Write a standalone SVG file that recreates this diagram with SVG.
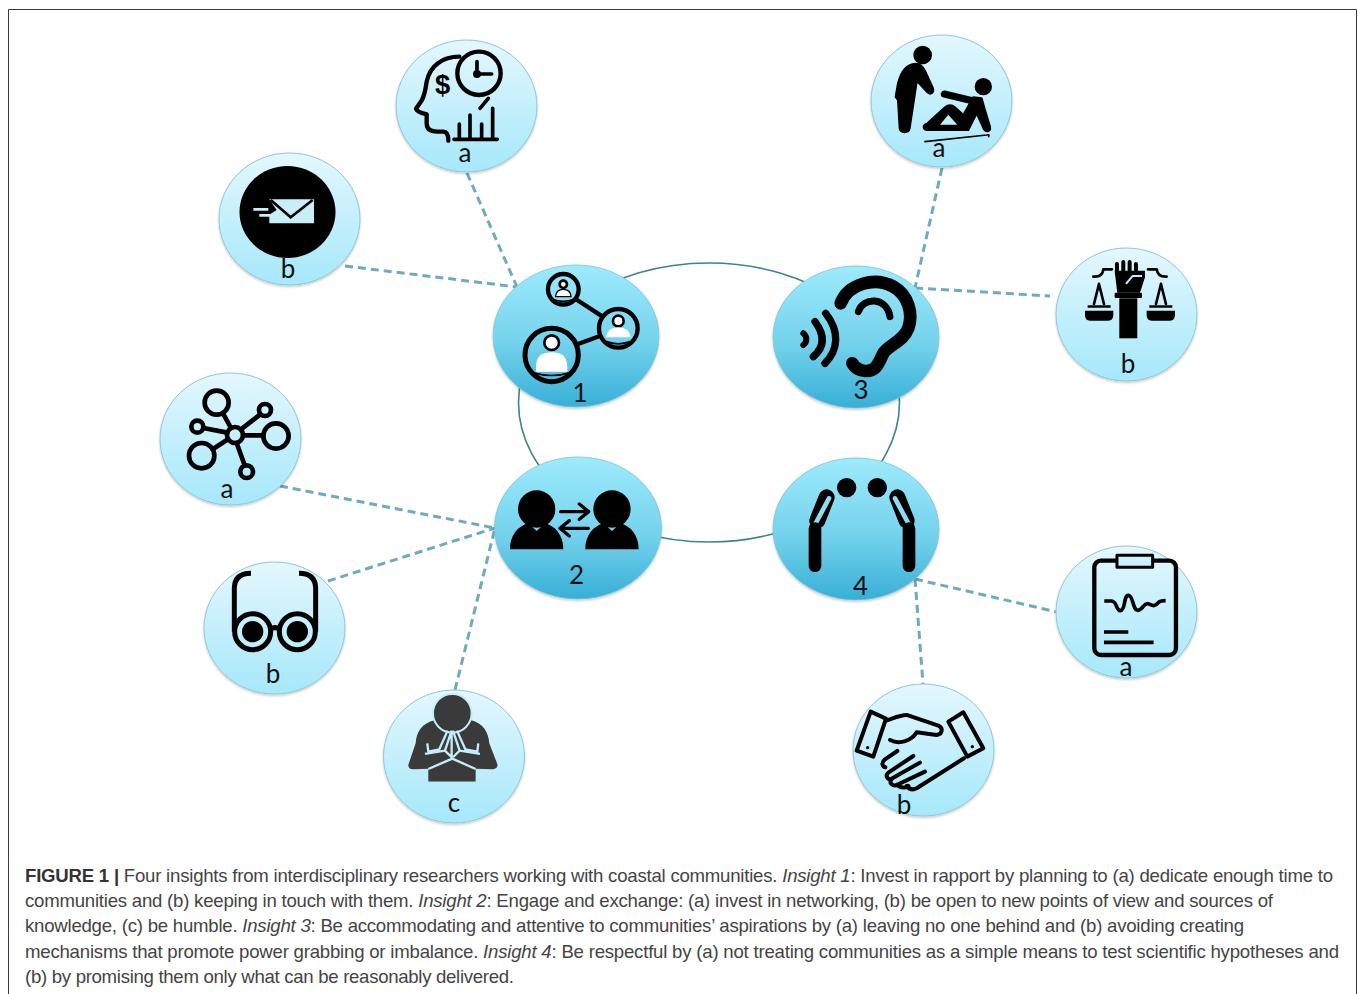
<svg xmlns="http://www.w3.org/2000/svg" width="1358" height="994" viewBox="0 0 1358 994">
<style>
.cap{font-family:"Liberation Sans",Arial,sans-serif;font-size:18.6px;fill:#444}
.cap .i{font-style:italic}
.cap .b{font-weight:bold;fill:#333}
.lb{font-family:Lato,"Open Sans",sans-serif;font-size:26px;fill:#111;text-anchor:middle}
.num{font-size:78px}
.dash{fill:none;stroke:#6eaac0;stroke-width:3;stroke-dasharray:8 5}
.ring{fill:none;stroke:#3d8296;stroke-width:1.6}
.small{fill:url(#gs);stroke:#8fc7d3;stroke-width:1;filter:url(#sh)}
.big{fill:url(#gb);stroke:#7cc4d8;stroke-width:.8;filter:url(#sh)}
.k{fill:none;stroke:#000;stroke-linecap:round;stroke-linejoin:round}
.f{fill:#000}
</style>
<defs>
<linearGradient id="gs" x1="0" y1="0" x2="0" y2="1"><stop offset="0" stop-color="#e4f7fd"/><stop offset="1" stop-color="#a6e8fb"/></linearGradient>
<linearGradient id="gb" x1="0" y1="0" x2="0" y2="1"><stop offset="0" stop-color="#9eebfc"/><stop offset=".55" stop-color="#74d2ec"/><stop offset="1" stop-color="#38afd6"/></linearGradient>
<filter id="sh" x="-10%" y="-10%" width="120%" height="120%"><feDropShadow dx="0" dy="1.5" stdDeviation="1.2" flood-color="#000" flood-opacity=".22"/></filter>
</defs>
<rect width="1358" height="994" fill="#fff"/>
<path d="M8.5 994V9.5H1356.5V994" fill="none" stroke="#3a3a3a" stroke-width="1"/>

<g id="connectors">
<ellipse class="ring" cx="709" cy="402.500" rx="190.500" ry="139.500"/>
<path class="dash" d="M467 173L517 287"/>
<path class="dash" d="M345 266L517 287"/>
<path class="dash" d="M942 168L915 288"/>
<path class="dash" d="M915 288L1050 296"/>
<path class="dash" d="M280 486L495 528"/>
<path class="dash" d="M328 581L495 528"/>
<path class="dash" d="M455 690L495 528"/>
<path class="dash" d="M915 579L1057 612"/>
<path class="dash" d="M915 579L923 684"/>
</g>

<g id="node-1">
<ellipse class="big" cx="576" cy="336" rx="83" ry="71"/>
<g transform="translate(380,20) scale(.3333)">
<g class="k" stroke-width="13">
<circle cx="550" cy="808" r="46"/>
<circle cx="715" cy="925" r="58"/>
<circle cx="515" cy="1005" r="80" stroke-width="15"/>
<path d="M588 838L668 890M592 973L660 948"/>
</g>
<g class="k" stroke-width="5"><path d="M518 838Q550 850 582 838"/><path d="M680 965Q715 978 750 965"/><path d="M458 1058Q515 1075 572 1058"/></g>
<g fill="#fff" stroke="#000" stroke-width="8">
<circle cx="550" cy="793" r="11"/><circle cx="715" cy="903" r="16"/>
<circle cx="515" cy="968" r="22"/>
</g>
<path fill="#fff" stroke="#000" stroke-width="4" d="M527 830Q528 808 550 808Q572 808 573 830Z"/>
<path fill="#fff" d="M678 952Q682 922 715 922Q748 922 752 952Z"/>
<path fill="#fff" d="M468 1055V1040Q468 997 515 997Q562 997 562 1040V1055Z"/>
<text class="lb num" x="600" y="1145">1</text>
</g>
</g>

<g id="node-2">
<ellipse class="big" cx="578" cy="528" rx="83.500" ry="71"/>
<g transform="translate(490,450) scale(.3333)">
<g id="p2"><circle class="f" cx="140" cy="177" r="56"/><path class="f" d="M60 298C60 255 85 228 115 220L140 243L165 220C195 228 220 255 220 298Z"/></g>
<use href="#p2" x="226"/>
<path class="k" stroke-width="10" d="M212 185H295M268 162L296 185L268 208M295 235H212M238 212L210 235L238 258"/>
<text class="lb num" x="260" y="401">2</text>
</g>
</g>

<g id="node-3">
<ellipse class="big" cx="856" cy="337" rx="83" ry="71"/>
<g transform="translate(760,20) scale(.3333)">
<path class="k" stroke-width="38" d="M242 850C265 790 345 770 400 800C445 825 460 880 445 925C430 965 385 975 370 1000C355 1030 350 1055 315 1053C295 1052 283 1040 277 1030"/>
<path class="k" stroke-width="21" d="M295 875C310 830 380 830 390 890"/>
<path class="k" stroke-width="22" d="M197 880C240 935 235 990 195 1030M165 905C195 945 195 980 160 1010"/>
<path class="k" stroke-width="18" d="M130 940C142 950 142 965 130 975"/>
<text class="lb num" x="303" y="1138">3</text>
</g>
</g>

<g id="node-4">
<ellipse class="big" cx="856" cy="529" rx="83" ry="71"/>
<g transform="translate(760,450) scale(.3333)">
<circle class="f" cx="260" cy="113" r="29"/><circle class="f" cx="352" cy="113" r="29"/>
<g id="bow">
<path class="k" stroke-width="48" d="M200 142L172 212"/>
<path d="M207 145L166 222" fill="none" stroke="#8fdcf1" stroke-width="14" stroke-linecap="round"/>
<path class="k" stroke-width="38" d="M165 236V347"/>
</g>
<use href="#bow" transform="translate(612,0) scale(-1,1)"/>
<text class="lb num" x="302" y="436">4</text>
</g>
</g>

<g id="node-1a">
<ellipse class="small" cx="466.500" cy="106" rx="70.500" ry="66"/>
<g transform="translate(380,20) scale(.3333)">
<g class="k" stroke-width="13">
<path d="M238 110C190 110 150 135 140 185C137 205 135 222 126 240L108 266C112 277 130 280 140 283V310C140 330 155 335 172 335H190C200 335 205 345 205 362"/>
<circle cx="297" cy="160" r="65"/>
<path d="M291 125V162H335" stroke-width="11"/>
<path d="M300 265L325 235" stroke-width="11"/>
<path d="M222 358H352M238 358V312M270 358V285M305 358V312M338 358V265" stroke-width="11"/>
</g>
<circle class="f" cx="291" cy="162" r="12"/>
<text x="188" y="222" text-anchor="middle" style="font-family:'Liberation Sans',sans-serif;font-size:82px;font-weight:bold;fill:#000">$</text>
</g>
<text class="lb" x="465" y="162">a</text>
</g>

<g id="node-1b">
<ellipse class="small" cx="289.500" cy="219" rx="70.500" ry="66"/>
<ellipse class="f" cx="287.500" cy="212" rx="48" ry="46"/>
<g transform="translate(200,140) scale(.3333)">
<path d="M208 178H342V250H208V224L230 210Z" fill="#c8eef8"/>
<path d="M212 180L272 232L338 180" fill="none" stroke="#000" stroke-width="8"/>
<path d="M160 208H205M178 226H215" fill="none" stroke="#c8eef8" stroke-width="8"/>
</g>
<text class="lb" x="288" y="278">b</text>
</g>

<g id="node-2a">
<ellipse class="small" cx="230.500" cy="439" rx="70.500" ry="66"/>
<g transform="translate(150,360) scale(.3333)" class="k" stroke-width="14">
<circle cx="255" cy="225" r="24"/><circle cx="200" cy="128" r="36"/><circle cx="345" cy="150" r="18"/><circle cx="378" cy="228" r="38"/><circle cx="290" cy="335" r="19"/><circle cx="155" cy="287" r="38"/><circle cx="142" cy="200" r="18"/>
<path d="M243 204L219 160M273 208L331 163M279 226H340M260 249L284 316M234 238L188 268M232 218L160 204"/>
</g>
<text class="lb" x="227" y="498">a</text>
</g>

<g id="node-2b">
<ellipse class="small" cx="274.500" cy="628" rx="70.500" ry="66"/>
<g transform="translate(150,360) scale(.3333)">
<g class="k" stroke-width="15">
<path d="M303 640Q254 640 253 685V815M447 640Q496 640 497 685V815" stroke-linecap="butt"/>
<circle cx="308" cy="815" r="54"/><circle cx="442" cy="815" r="54"/>
<path d="M362 808Q375 798 388 808"/>
</g>
<circle class="f" cx="308" cy="815" r="32"/><circle class="f" cx="442" cy="815" r="32"/>
</g>
<text class="lb" x="273" y="683">b</text>
</g>

<g id="node-2c">
<ellipse class="small" cx="454" cy="756.500" rx="70.500" ry="66.500"/>
<g transform="translate(150,360) scale(.3333)">
<path fill="#3a3a3a" d="M855 1080C815 1090 800 1115 797 1150L775 1215Q775 1228 790 1228L835 1226V1265H977V1226L1028 1228Q1045 1226 1042 1212L1018 1150C1015 1115 1000 1090 962 1080Z"/>
<circle cx="907" cy="1060" r="58" fill="#3a3a3a" stroke="#c4edf9" stroke-width="6"/>
<circle cx="907" cy="1060" r="53" fill="#3a3a3a"/>
<g fill="none" stroke="#c4edf9" stroke-width="7" stroke-linejoin="round">
<path d="M893 1112L868 1168L835 1175L832 1150M825 1182L885 1172"/>
<path d="M921 1112L946 1168L982 1175L985 1150M990 1182L929 1172"/>
<path d="M905 1112L885 1172L905 1192V1112M909 1112L929 1172L909 1192"/>
<path d="M835 1227L907 1196L977 1227"/>
</g>
</g>
<text class="lb" x="454" y="812">c</text>
</g>

<g id="node-3a">
<ellipse class="small" cx="941.500" cy="101" rx="70.500" ry="66"/>
<g transform="translate(760,20) scale(.3333)">
<circle class="f" cx="488" cy="105" r="28"/>
<path class="f" stroke="#000" stroke-width="8" stroke-linejoin="round" d="M415 190C425 150 445 132 470 132C485 132 490 145 495 155L518 205C522 218 510 224 503 216L470 180L448 325C445 340 422 338 420 325L415 240L408 230Z"/>
<circle class="f" cx="670" cy="200" r="26"/>
<path class="k" stroke-width="21" d="M553 222L640 243"/>
<path class="f" stroke="#000" stroke-width="6" stroke-linejoin="round" d="M640 232L665 235L675 270L690 320C693 335 680 338 672 328L650 280L625 330H500C488 328 488 315 500 312L555 262C565 254 575 254 585 262L610 285Z"/>
<path d="M540 314L565 284L592 314Z" fill="#bfeefb"/>
<path class="k" stroke-width="5" stroke-linecap="butt" d="M495 365L680 345Q690 342 686 350"/>
</g>
<text class="lb" x="939" y="157">a</text>
</g>

<g id="node-3b">
<ellipse class="small" cx="1126.500" cy="314.500" rx="70.500" ry="66.500"/>
<g transform="translate(760,20) scale(.3333)">
<rect class="f" x="1078" y="835" width="54" height="120"/>
<rect class="f" x="1064" y="818" width="82" height="16" rx="3"/>
<path class="f" d="M1064 752H1155V772L1140 818H1072Z"/>
<path class="k" stroke-width="12" d="M1071 732V752M1090 726V752M1109 726V752M1128 732V752"/>
<path d="M1098 792L1118 768H1146" fill="none" stroke="#c4eefa" stroke-width="6"/>
<path class="k" stroke-width="8" stroke-linecap="butt" d="M1056 748H1030Q1028 772 1000 770M1164 748H1190Q1194 772 1220 770"/>
<path class="k" stroke-width="8" d="M1017 792L1002 852M1017 792L1032 852M1203 792L1188 852M1203 792L1218 852"/>
<path class="f" d="M983 856H1052V863H983ZM1168 856H1237V863H1168ZM975 872H1060V885Q1060 902 1045 902H990Q975 902 975 885ZM1160 872H1245V885Q1245 902 1230 902H1175Q1160 902 1160 885Z"/>
</g>
<text class="lb" x="1128" y="373">b</text>
</g>

<g id="node-4a">
<ellipse class="small" cx="1126.500" cy="612" rx="70.500" ry="66"/>
<g transform="translate(760,450) scale(.3333)" class="k">
<rect x="1003" y="332" width="245" height="283" rx="20" stroke-width="13"/>
<rect x="1071" y="316" width="107" height="36" fill="#cdf1fb" stroke-width="9" stroke-linecap="butt"/>
<path stroke-width="11" stroke-linecap="butt" d="M1033 453H1055C1072 453 1068 485 1082 482C1098 478 1090 435 1106 436C1120 437 1118 482 1134 481C1150 480 1152 455 1166 462C1178 468 1186 470 1195 458Q1200 452 1217 452"/>
<path stroke-width="11" stroke-linecap="butt" d="M1032 546H1105M1032 577H1181"/>
</g>
<text class="lb" x="1126" y="676">a</text>
</g>

<g id="node-4b">
<ellipse class="small" cx="923.500" cy="750" rx="70.500" ry="66"/>
<g transform="translate(760,450) scale(.3333)">
<g class="k" stroke-width="12">
<path d="M332 785L378 806L340 920L290 902Z"/>
<path d="M565 815L610 787L670 895L622 920Z"/>
<path d="M378 812C400 805 420 795 440 795L535 827C552 835 546 852 530 855L470 847C455 872 420 885 390 870"/>
<path d="M612 925L470 1015C455 1022 445 1015 440 1008"/>
<path d="M412 903L375 928C362 938 368 950 376 952M460 918L385 968C375 978 382 988 392 988L480 938M395 988C385 1000 400 1010 410 1005L495 965M410 1005C425 1015 440 1015 445 1008"/>
</g>
<circle class="f" cx="323" cy="893" r="5"/><circle class="f" cx="637" cy="890" r="5"/>
</g>
<text class="lb" x="904" y="814">b</text>
</g>

<g id="caption">
<text class="cap" x="25" y="882" textLength="1308"><tspan class="b">FIGURE 1 | </tspan>Four insights from interdisciplinary researchers working with coastal communities. <tspan class="i">Insight 1</tspan>: Invest in rapport by planning to (a) dedicate enough time to</text>
<text class="cap" x="25" y="907" textLength="1248">communities and (b) keeping in touch with them. <tspan class="i">Insight 2</tspan>: Engage and exchange: (a) invest in networking, (b) be open to new points of view and sources of</text>
<text class="cap" x="25" y="932" textLength="1219">knowledge, (c) be humble. <tspan class="i">Insight 3</tspan>: Be accommodating and attentive to communities’ aspirations by (a) leaving no one behind and (b) avoiding creating</text>
<text class="cap" x="25" y="958" textLength="1314">mechanisms that promote power grabbing or imbalance. <tspan class="i">Insight 4</tspan>: Be respectful by (a) not treating communities as a simple means to test scientific hypotheses and</text>
<text class="cap" x="25" y="983" textLength="489">(b) by promising them only what can be reasonably delivered.</text>
</g>
</svg>
